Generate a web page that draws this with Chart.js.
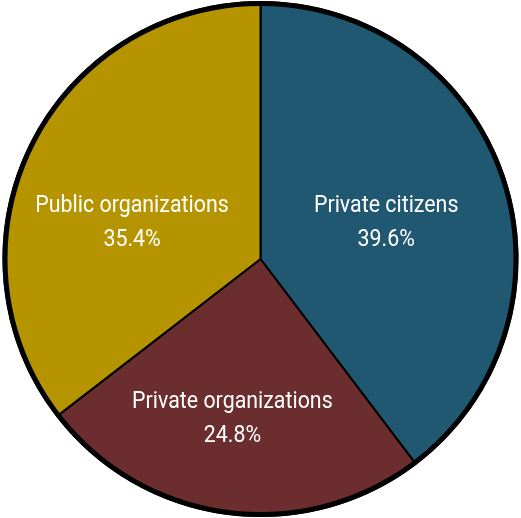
<!DOCTYPE html>
<html>
<head>
<meta charset="utf-8">
<script src="https://cdn.jsdelivr.net/npm/chart.js@4"></script>
<style>
  html, body { margin: 0; padding: 0; background: #fff; }
  #wrap { width: 521px; height: 518px; }
</style>
</head>
<body>
<div id="wrap"><canvas id="myChart"></canvas></div>
<script>
const categories = ["Private citizens", "Private organizations", "Public organizations"];
const shares = [39.6, 24.8, 35.4];
const sliceColors = ["#1F5870", "#6B2D2D", "#B59400"];

// where each label sits: fraction of radius, angle clockwise from 12 o'clock
const labelRadius = [0.51, 0.63, 0.52];
const labelAngle = [73.5, 190, 286];

const outlinePlugin = {
  id: "outline",
  afterDatasetsDraw(chart) {
    const arc = chart.getDatasetMeta(0).data[0];
    const ctx = chart.ctx;
    ctx.save();
    ctx.beginPath();
    ctx.arc(arc.x, arc.y, arc.outerRadius - 1.5, 0, Math.PI * 2);
    ctx.lineWidth = 5;
    ctx.strokeStyle = "#000";
    ctx.stroke();
    ctx.restore();

    // condensed look: narrow the glyphs horizontally
    const squeeze = 0.89;
    categories.forEach((name, i) => {
      const a = labelAngle[i] * Math.PI / 180;
      const r = arc.outerRadius * labelRadius[i];
      const x = arc.x + r * Math.sin(a);
      const y = arc.y - r * Math.cos(a);
      ctx.save();
      ctx.translate(x, y);
      ctx.scale(squeeze, 1);
      ctx.fillStyle = "#fff";
      ctx.font = "24px Roboto, 'Liberation Sans', sans-serif";
      ctx.textAlign = "center";
      ctx.textBaseline = "middle";
      ctx.fillText(name, 0, -16);
      ctx.fillText(shares[i].toFixed(1) + "%", 0, 18);
      ctx.restore();
    });
  }
};

new Chart("myChart", {
  type: "pie",
  data: {
    labels: categories,
    datasets: [{
      data: shares,
      backgroundColor: sliceColors,
      borderColor: "#000",
      borderWidth: 2
    }]
  },
  options: {
    responsive: true,
    maintainAspectRatio: false,
    animation: false,
    layout: { padding: 1 },
    plugins: {
      legend: { display: false },
      tooltip: { enabled: false }
    }
  },
  plugins: [outlinePlugin]
});
</script>
</body>
</html>
